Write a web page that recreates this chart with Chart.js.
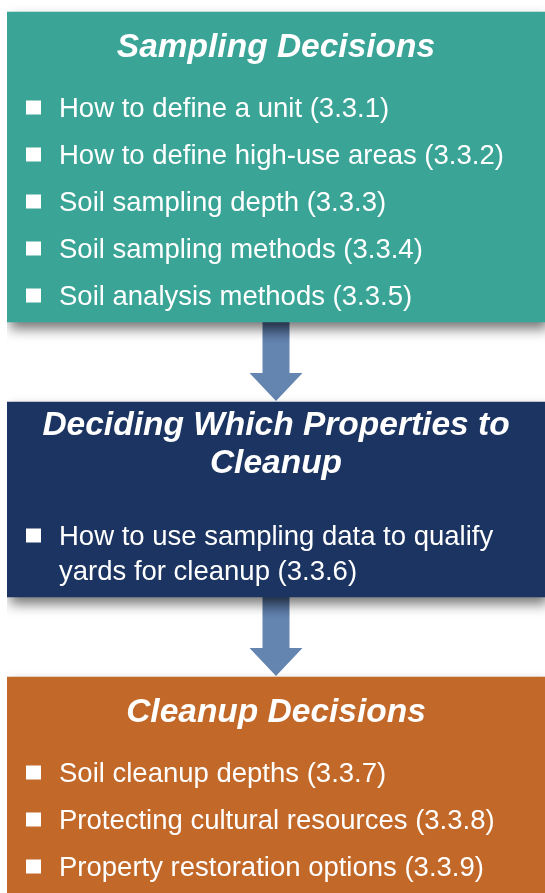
<!DOCTYPE html>
<html>
<head>
<meta charset="utf-8">
<script src="https://cdn.jsdelivr.net/npm/chart.js@4"></script>
<style>
    html, body { margin: 0; padding: 0; background: #fff; }
    canvas { display: block; }
</style>
</head>
<body>
<canvas id="myChart" width="545" height="893"></canvas>
<script>
let stageTitles = ['Sampling Decisions', 'Deciding Which Properties to Cleanup', 'Cleanup Decisions'];
let stageItems = [
    [
        'How to define a unit (3.3.1)'
        , 'How to define high-use areas (3.3.2)'
        , 'Soil sampling depth (3.3.3)'
        , 'Soil sampling methods (3.3.4)'
        , 'Soil analysis methods (3.3.5)'
    ],
    [
        'How to use sampling data to qualify yards for cleanup (3.3.6)'
    ],
    [
        'Soil cleanup depths (3.3.7)'
        , 'Protecting cultural resources (3.3.8)'
        , 'Property restoration options (3.3.9)'
    ]
];
// top and bottom of each box (y grows downward)
let stageSpans = [[12, 322], [402, 597], [677, 893]];

let colors = {
    'teal': '#3aa596'
    , 'navy': '#1c3461'
    , 'orange': '#c2692a'
    , 'arrow': '#6585b1'
    , 'arrowDark': '#4b6690'
    , 'white': '#ffffff'
}
let stageColors = [colors['teal'], colors['navy'], colors['orange']];

let titleFont = 'italic bold 33.5px "Liberation Sans", Arial, sans-serif';
let itemFont = '27.5px "Liberation Sans", Arial, sans-serif';

const wrapText = (ctx, text, maxWidth) => {
    let words = text.split(' ');
    let lines = [];
    let line = '';
    for (let i = 0; i < words.length; i++) {
        let test = line === '' ? words[i] : line + ' ' + words[i];
        if (ctx.measureText(test).width > maxWidth && line !== '') {
            lines.push(line);
            line = words[i];
        } else {
            line = test;
        }
    }
    lines.push(line);
    return lines;
}

// arrows between the boxes, drawn before the boxes so their shadows fall on top
const arrowPlugin = {
    id: 'arrows',
    beforeDatasetsDraw(chart) {
        let ctx = chart.ctx;
        let y = chart.scales.y;
        let area = chart.chartArea;
        let cx = (area.left + area.right) / 2;
        for (let i = 0; i < stageSpans.length - 1; i++) {
            let y0 = y.getPixelForValue(stageSpans[i][1]);
            let y1 = y.getPixelForValue(stageSpans[i + 1][0]) - 1;
            let headTop = y1 - 28;
            let grad = ctx.createLinearGradient(0, y0, 0, y0 + 22);
            grad.addColorStop(0, colors['arrowDark']);
            grad.addColorStop(1, colors['arrow']);
            ctx.save();
            ctx.fillStyle = grad;
            ctx.beginPath();
            ctx.moveTo(cx - 13.5, y0);
            ctx.lineTo(cx + 13.5, y0);
            ctx.lineTo(cx + 13.5, headTop);
            ctx.lineTo(cx + 26.5, headTop);
            ctx.lineTo(cx, y1);
            ctx.lineTo(cx - 26.5, headTop);
            ctx.lineTo(cx - 13.5, headTop);
            ctx.closePath();
            ctx.fill();
            ctx.restore();
        }
    }
}

const shadowPlugin = {
    id: 'boxShadow',
    beforeDatasetDraw(chart) {
        let ctx = chart.ctx;
        ctx.save();
        ctx.shadowColor = 'rgba(0, 0, 0, 0.55)';
        ctx.shadowBlur = 12;
        ctx.shadowOffsetX = 3;
        ctx.shadowOffsetY = 7;
    },
    afterDatasetDraw(chart) {
        chart.ctx.restore();
    }
}

const textPlugin = {
    id: 'boxText',
    afterDatasetsDraw(chart) {
        let ctx = chart.ctx;
        let y = chart.scales.y;
        let area = chart.chartArea;
        let cx = (area.left + area.right) / 2;
        let textX = area.left + 52;
        let bulletX = area.left + 19;
        ctx.save();
        ctx.fillStyle = colors['white'];
        for (let i = 0; i < stageTitles.length; i++) {
            let top = y.getPixelForValue(stageSpans[i][0]);
            let bottom = y.getPixelForValue(stageSpans[i][1]);

            ctx.font = titleFont;
            ctx.textAlign = 'center';
            ctx.textBaseline = 'alphabetic';
            let titleLines = wrapText(ctx, stageTitles[i], area.right - area.left - 30);
            let ty = top + 45 - (titleLines.length - 1) * 12;
            for (let j = 0; j < titleLines.length; j++) {
                ctx.fillText(titleLines[j], cx, ty + j * 38);
            }

            // items are stacked from the bottom of the box upward
            ctx.font = itemFont;
            ctx.textAlign = 'left';
            let wrapped = stageItems[i].map(t => wrapText(ctx, t, area.right - textX - 12));
            let base = bottom - 17;
            let positions = [];
            for (let k = wrapped.length - 1; k >= 0; k--) {
                let lines = wrapped[k];
                let first = base - (lines.length - 1) * 35;
                positions[k] = first;
                base = first - 47;
            }
            for (let k = 0; k < wrapped.length; k++) {
                let first = positions[k];
                ctx.fillRect(bulletX, first - 16.5, 15, 14);
                for (let j = 0; j < wrapped[k].length; j++) {
                    ctx.fillText(wrapped[k][j], textX, first + j * 35);
                }
            }
        }
        ctx.restore();
    }
}

let datasets = [];
for (let i = 0; i < stageTitles.length; i++) {
    datasets.push({
        label: stageTitles[i],
        data: [stageSpans[i]],
        backgroundColor: stageColors[i],
        borderWidth: 0,
        borderSkipped: false,
        barPercentage: 1,
        categoryPercentage: 1,
        grouped: false,
    });
}

let canvas = document.getElementById('myChart');
let myChart = new Chart(canvas.getContext('2d'), {
    type: 'bar',
    data: {
        labels: ['flow'],
        datasets: datasets,
    },
    options: {
        responsive: false,
        animation: false,
        layout: { padding: { left: 7, right: 0, top: 0, bottom: 0 } },
        plugins: {
            legend: { display: false },
            tooltip: { enabled: false },
        },
        scales: {
            x: { display: false },
            y: { display: false, min: 0, max: 893, reverse: true },
        },
    },
    plugins: [arrowPlugin, shadowPlugin, textPlugin],
});
</script>
</body>
</html>
